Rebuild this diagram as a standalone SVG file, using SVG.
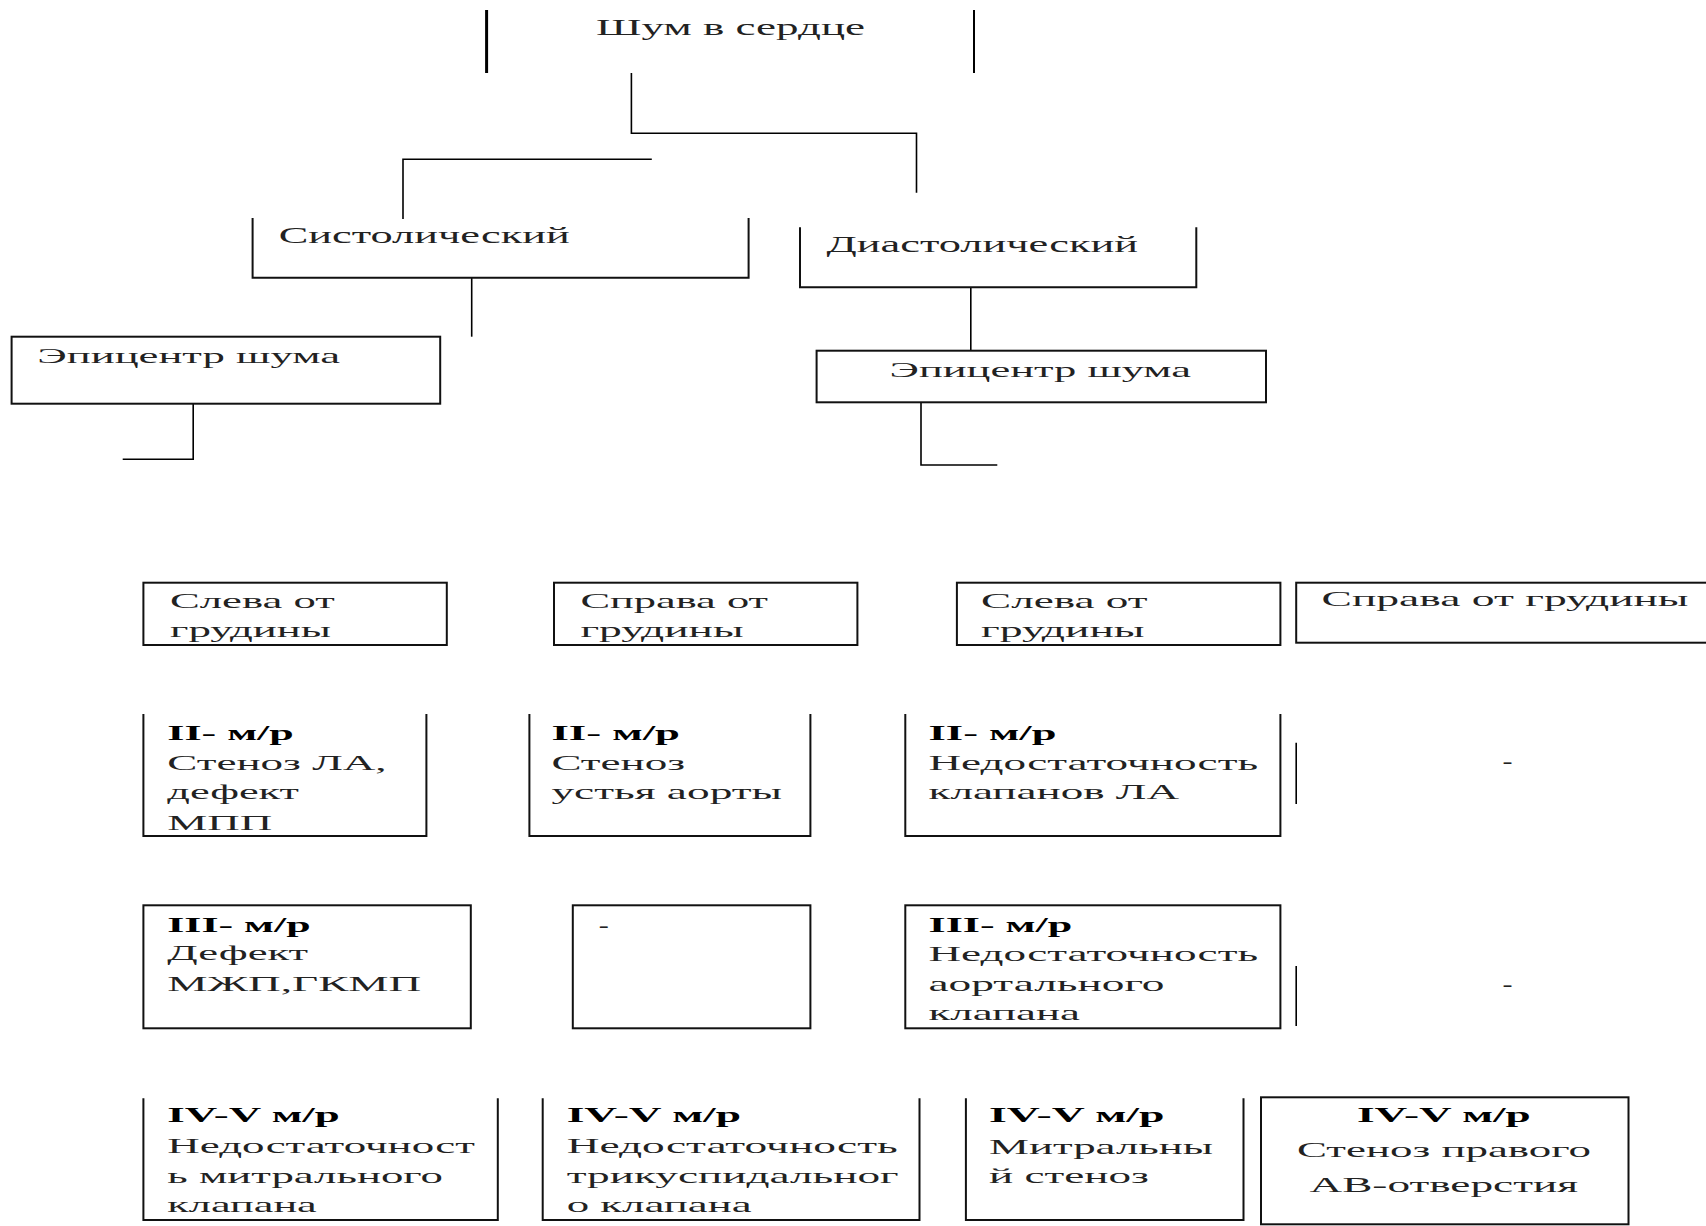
<svg xmlns="http://www.w3.org/2000/svg" width="1706" height="1226" viewBox="0 0 1706 1226">
<style>
.t{font-family:"Liberation Serif","Times New Roman",serif;font-size:22px;fill:#222}
.h{font-size:24px}
.b{font-family:"Liberation Serif","Times New Roman",serif;font-size:22px;font-weight:bold;fill:#000}
.ln{fill:none;stroke:#000;stroke-width:1.6}
.bx{fill:none;stroke:#111;stroke-width:2}
</style>
<rect width="1706" height="1226" fill="#fff"/>
<g id="connectors">
<path class="ln" d="M631.4,73 V133.3 H916.5 V192.7"/>
<path class="ln" d="M651.8,159.3 H403 V219"/>
<path class="ln" d="M471.7,277.7 V336.7"/>
<path class="ln" d="M970.8,287.3 V350.7"/>
<path class="ln" d="M193.2,403.7 V459.3 H122.7"/>
<path class="ln" d="M921,402.3 V465 H997.3"/>
</g>
<g id="n-top">
<line x1="486.6" y1="10" x2="486.6" y2="73" stroke="#000" stroke-width="3"/>
<line x1="974" y1="10" x2="974" y2="73" stroke="#000" stroke-width="2"/>
<text class="t h" x="596" y="35" textLength="269" lengthAdjust="spacingAndGlyphs">Шум в сердце</text>
</g>
<g id="n-systolic">
<path class="bx" d="M252.6,218 V277.7 H748.6 V218"/>
<text class="t h" x="278.7" y="243.3" textLength="291" lengthAdjust="spacingAndGlyphs">Систолический</text>
</g>
<g id="n-diastolic">
<path class="bx" d="M800,227.3 V287.3 H1196.3 V227.3"/>
<text class="t h" x="826.5" y="251.5" textLength="311.5" lengthAdjust="spacingAndGlyphs">Диастолический</text>
</g>
<g id="n-epi-left">
<rect class="bx" x="11.6" y="336.7" width="428.6" height="67"/>
<text class="t" x="37.3" y="362.7" textLength="302.7" lengthAdjust="spacingAndGlyphs">Эпицентр шума</text>
</g>
<g id="n-epi-right">
<rect class="bx" x="816.6" y="350.7" width="449.4" height="51.6"/>
<text class="t" x="889.5" y="376.7" textLength="301.5" lengthAdjust="spacingAndGlyphs">Эпицентр шума</text>
</g>
<g id="n-r1c1">
<rect class="bx" x="143.4" y="582.7" width="303.4" height="62.3"/>
<text class="t" x="170" y="607.7" textLength="164.7" lengthAdjust="spacingAndGlyphs">Слева от</text>
<text class="t" x="170" y="637.3" textLength="161" lengthAdjust="spacingAndGlyphs">грудины</text>
</g>
<g id="n-r1c2">
<rect class="bx" x="554" y="582.7" width="303.4" height="62.3"/>
<text class="t" x="580.4" y="607.7" textLength="187.6" lengthAdjust="spacingAndGlyphs">Справа от</text>
<text class="t" x="580.4" y="637.3" textLength="163.2" lengthAdjust="spacingAndGlyphs">грудины</text>
</g>
<g id="n-r1c3">
<rect class="bx" x="956.9" y="582.7" width="323.5" height="62.3"/>
<text class="t" x="981" y="607.7" textLength="166.6" lengthAdjust="spacingAndGlyphs">Слева от</text>
<text class="t" x="981" y="637.3" textLength="163.5" lengthAdjust="spacingAndGlyphs">грудины</text>
</g>
<g id="n-r1c4">
<rect class="bx" x="1296.2" y="582.7" width="420" height="60"/>
<text class="t" x="1321.5" y="605.7" textLength="367" lengthAdjust="spacingAndGlyphs">Справа от грудины</text>
</g>
<g id="n-r2c1">
<path class="bx" d="M143.4,714 V836 H426.4 V714"/>
<text class="b" x="167.3" y="740" textLength="126.5" lengthAdjust="spacingAndGlyphs">II- м/р</text>
<text class="t" x="167.3" y="770" textLength="219.3" lengthAdjust="spacingAndGlyphs">Стеноз ЛА,</text>
<text class="t" x="167.3" y="799.3" textLength="131.7" lengthAdjust="spacingAndGlyphs">дефект</text>
<text class="t" x="167.3" y="830" textLength="105" lengthAdjust="spacingAndGlyphs">МПП</text>
</g>
<g id="n-r2c2">
<path class="bx" d="M529.4,714 V836 H810.4 V714"/>
<text class="b" x="551.4" y="740" textLength="128.6" lengthAdjust="spacingAndGlyphs">II- м/р</text>
<text class="t" x="551.4" y="770" textLength="133.6" lengthAdjust="spacingAndGlyphs">Стеноз</text>
<text class="t" x="551.4" y="799.3" textLength="230.6" lengthAdjust="spacingAndGlyphs">устья аорты</text>
</g>
<g id="n-r2c3">
<path class="bx" d="M905.3,714 V836 H1280.4 V714"/>
<text class="b" x="928.5" y="740" textLength="128" lengthAdjust="spacingAndGlyphs">II- м/р</text>
<text class="t" x="928.5" y="770" textLength="329.5" lengthAdjust="spacingAndGlyphs">Недостаточность</text>
<text class="t" x="928.5" y="799.3" textLength="250.5" lengthAdjust="spacingAndGlyphs">клапанов ЛА</text>
</g>
<g id="n-r2c4">
<line class="ln" x1="1296.2" y1="742.7" x2="1296.2" y2="804"/>
<text class="t" x="1502.5" y="768" textLength="10" lengthAdjust="spacingAndGlyphs">-</text>
</g>
<g id="n-r3c1">
<rect class="bx" x="143.4" y="905.3" width="327.4" height="123"/>
<text class="b" x="167.3" y="931.7" textLength="143.3" lengthAdjust="spacingAndGlyphs">III- м/р</text>
<text class="t" x="167.3" y="960" textLength="140.8" lengthAdjust="spacingAndGlyphs">Дефект</text>
<text class="t" x="167.3" y="991" textLength="254" lengthAdjust="spacingAndGlyphs">МЖП,ГКМП</text>
</g>
<g id="n-r3c2">
<rect class="bx" x="572.8" y="905.3" width="237.6" height="123"/>
<text class="t" x="598.8" y="932" textLength="10" lengthAdjust="spacingAndGlyphs">-</text>
</g>
<g id="n-r3c3">
<rect class="bx" x="905.3" y="905.3" width="375.1" height="123"/>
<text class="b" x="928.5" y="931.7" textLength="143.8" lengthAdjust="spacingAndGlyphs">III- м/р</text>
<text class="t" x="928.5" y="961" textLength="329.5" lengthAdjust="spacingAndGlyphs">Недостаточность</text>
<text class="t" x="928.5" y="990.7" textLength="236" lengthAdjust="spacingAndGlyphs">аортального</text>
<text class="t" x="928.5" y="1020" textLength="151.5" lengthAdjust="spacingAndGlyphs">клапана</text>
</g>
<g id="n-r3c4">
<line class="ln" x1="1296.2" y1="966" x2="1296.2" y2="1026"/>
<text class="t" x="1502.5" y="990.5" textLength="10" lengthAdjust="spacingAndGlyphs">-</text>
</g>
<g id="n-r4c1">
<path class="bx" d="M143.4,1098.3 V1220 H497.8 V1098.3"/>
<text class="b" x="167.3" y="1121.7" textLength="172.4" lengthAdjust="spacingAndGlyphs">IV-V м/р</text>
<text class="t" x="167.3" y="1153.3" textLength="307.6" lengthAdjust="spacingAndGlyphs">Недостаточност</text>
<text class="t" x="167.3" y="1182.7" textLength="275.7" lengthAdjust="spacingAndGlyphs">ь митрального</text>
<text class="t" x="167.3" y="1212.3" textLength="149.5" lengthAdjust="spacingAndGlyphs">клапана</text>
</g>
<g id="n-r4c2">
<path class="bx" d="M542.7,1098.3 V1220 H919.5 V1098.3"/>
<text class="b" x="566.7" y="1121.7" textLength="174.3" lengthAdjust="spacingAndGlyphs">IV-V м/р</text>
<text class="t" x="566.7" y="1153.3" textLength="331" lengthAdjust="spacingAndGlyphs">Недостаточность</text>
<text class="t" x="566.7" y="1182.7" textLength="332" lengthAdjust="spacingAndGlyphs">трикуспидальног</text>
<text class="t" x="566.7" y="1212.3" textLength="185" lengthAdjust="spacingAndGlyphs">о клапана</text>
</g>
<g id="n-r4c3">
<path class="bx" d="M965.9,1098.3 V1220 H1243.5 V1098.3"/>
<text class="b" x="989" y="1121.7" textLength="175.5" lengthAdjust="spacingAndGlyphs">IV-V м/р</text>
<text class="t" x="989" y="1154.3" textLength="224" lengthAdjust="spacingAndGlyphs">Митральны</text>
<text class="t" x="989" y="1183.3" textLength="159.8" lengthAdjust="spacingAndGlyphs">й стеноз</text>
</g>
<g id="n-r4c4">
<rect class="bx" x="1261" y="1097.3" width="367.5" height="127" stroke-width="2.5"/>
<text class="b" x="1357" y="1121.7" textLength="173.7" lengthAdjust="spacingAndGlyphs">IV-V м/р</text>
<text class="t" x="1297" y="1157.3" textLength="294" lengthAdjust="spacingAndGlyphs">Стеноз правого</text>
<text class="t" x="1309.5" y="1191.7" textLength="268.5" lengthAdjust="spacingAndGlyphs">АВ-отверстия</text>
</g>
</svg>
